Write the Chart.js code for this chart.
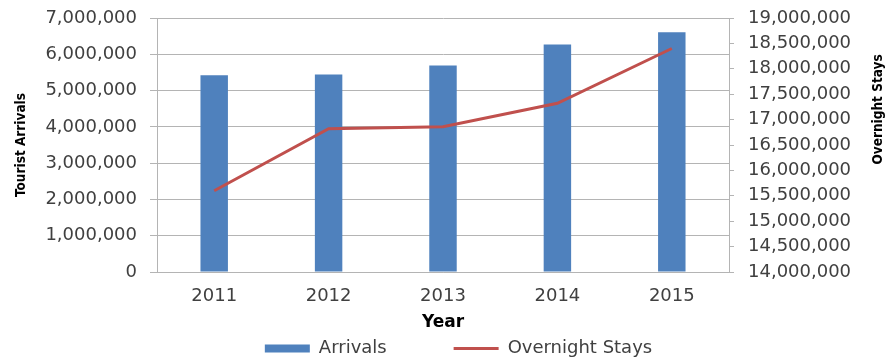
<!DOCTYPE html>
<html><head><meta charset="utf-8">
<script src="https://cdn.jsdelivr.net/npm/chart.js@4"></script>
<style>html,body{margin:0;padding:0;background:#fff}#wrap{width:891px;height:358px;position:relative}</style>
</head><body><div id="wrap"><canvas id="c" width="891" height="358"></canvas></div>
<script>
const categories = ['2011', '2012', '2013', '2014', '2015'];
const arrivals = [5420000, 5440000, 5690000, 6270000, 6610000];
const overnightStays = [15600000, 16820000, 16860000, 17320000, 18400000];
const leftTicks = [0, 1000000, 2000000, 3000000, 4000000, 5000000, 6000000, 7000000];
const rightTicks = [14000000, 14500000, 15000000, 15500000, 16000000, 16500000, 17000000, 17500000, 18000000, 18500000, 19000000];

const barColor = '#4F81BD';
const lineColor = '#C0504D';
const gridColor = '#B4B4B4';
const textColor = '#404040';
const tickFont = { family: "'DejaVu Sans', sans-serif", size: 18 };
const titleFamily = "'DejaVu Sans Condensed', sans-serif";
const fmt = v => Number(v).toLocaleString('en-US');

const customPlugin = {
  id: 'custom',
  afterLayout(chart) {
    const lg = chart.legend;
    const dx = 13, dy = 9.5;
    lg.left += dx; lg.right += dx; lg.top += dy; lg.bottom += dy;
  },
  afterDraw(chart) {
    const ctx = chart.ctx;
    const s = chart.scales.y1;
    const a = chart.chartArea;
    ctx.save();
    ctx.translate(s.right - 13, a.top + (a.bottom - a.top) * 0.36);
    ctx.rotate(-Math.PI / 2);
    ctx.font = 'bold 13.5px ' + titleFamily;
    ctx.fillStyle = '#000';
    ctx.textAlign = 'center';
    ctx.textBaseline = 'middle';
    ctx.fillText('Overnight Stays', 0, 0);
    ctx.restore();
  }
};

new Chart(document.getElementById('c'), {
  type: 'bar',
  data: {
    labels: categories,
    datasets: [
      { type: 'bar', label: 'Arrivals', data: arrivals, backgroundColor: barColor, yAxisID: 'y',
        barPercentage: 0.24, categoryPercentage: 1, order: 2 },
      { type: 'line', label: 'Overnight Stays', data: overnightStays, borderColor: lineColor, borderWidth: 3,
        pointRadius: 0, tension: 0, fill: false, yAxisID: 'y1', order: 1 }
    ]
  },
  options: {
    responsive: false,
    animation: false,
    layout: { padding: { top: 18, left: 0, right: 0, bottom: 0 } },
    plugins: {
      tooltip: { enabled: false },
      legend: {
        position: 'bottom',
        labels: {
          usePointStyle: true, pointStyleWidth: 45, boxHeight: 8, padding: 4,
          color: textColor, font: tickFont,
          generateLabels(chart) {
            const ds = chart.data.datasets;
            return [
              { text: ds[0].label + '           ', fillStyle: barColor, strokeStyle: barColor, lineWidth: 0,
                pointStyle: 'rect', datasetIndex: 0, hidden: false, fontColor: textColor },
              { text: ds[1].label, fillStyle: lineColor, strokeStyle: lineColor, lineWidth: 3,
                pointStyle: 'line', datasetIndex: 1, hidden: false, fontColor: textColor }
            ];
          }
        }
      }
    },
    scales: {
      x: {
        grid: { drawOnChartArea: false, drawTicks: false },
        border: { display: true, color: gridColor },
        ticks: { color: textColor, font: tickFont, padding: 14 },
        title: { display: true, text: 'Year', color: '#000',
          font: { family: "'DejaVu Sans', sans-serif", size: 17, weight: 'bold' }, padding: { top: 0, bottom: -7 } },
        afterFit(s) { s.height = 54; s.paddingLeft = 0; s.paddingRight = 0; }
      },
      y: {
        position: 'left',
        min: leftTicks[0], max: leftTicks[leftTicks.length - 1],
        afterBuildTicks(s) { s.ticks = leftTicks.map(v => ({ value: v })); },
        grid: { color: gridColor, tickLength: 7 },
        border: { display: true, color: gridColor },
        ticks: { color: textColor, font: tickFont, padding: 13, autoSkip: false, callback: fmt },
        title: { display: true, text: 'Tourist Arrivals', color: '#000',
          font: { family: titleFamily, size: 13.5, weight: 'bold' }, padding: { top: 13, bottom: 0 } },
        afterFit(s) { s.width = 157; s.paddingTop = 0; s.paddingBottom = 0; }
      },
      y1: {
        position: 'right',
        min: rightTicks[0], max: rightTicks[rightTicks.length - 1],
        afterBuildTicks(s) { s.ticks = rightTicks.map(v => ({ value: v })); },
        grid: { drawOnChartArea: false, color: gridColor, tickLength: 5 },
        border: { display: true, color: gridColor },
        ticks: { color: textColor, font: tickFont, padding: 14, autoSkip: false, callback: fmt },
        afterFit(s) { s.width = 162; s.paddingTop = 0; s.paddingBottom = 0; }
      }
    }
  },
  plugins: [customPlugin]
});
</script></body></html>
